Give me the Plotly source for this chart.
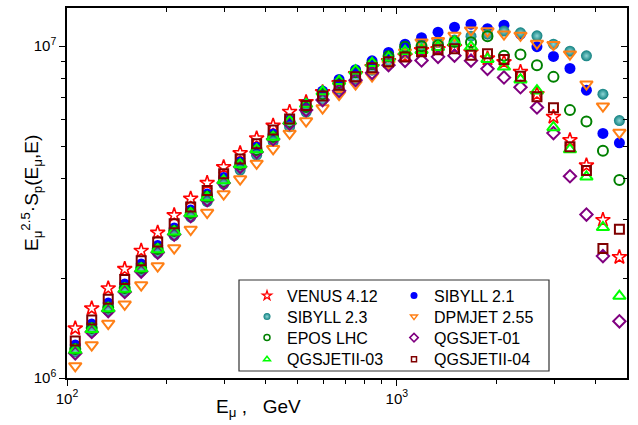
import plotly.graph_objects as go

# Muon energy (GeV), bin centres
energy = [105.93, 118.85, 133.35, 149.62, 167.88, 188.36, 211.35, 237.14, 266.07, 298.54,
          334.97, 375.84, 421.70, 473.15, 530.88, 595.66, 668.34, 749.89, 841.40, 944.06,
          1059.3, 1188.5, 1333.5, 1496.2, 1678.8, 1883.6, 2113.5, 2371.4, 2660.7, 2985.4,
          3349.7, 3758.4, 4217.0, 4731.5]

# E^2.5 * S_p values, in units of 1e6
venus = [1.411, 1.621, 1.863, 2.130, 2.417, 2.740, 3.093, 3.472, 3.868, 4.320, 4.761, 5.272, 5.762,
         6.340, 6.783, 7.269, 7.738, 8.235, 8.645, 9.013, 9.331, 9.727, 9.794, 9.931, 9.593, 9.183,
         8.951, 8.367, 7.169, 6.124, 5.210, 4.372, 2.992, 2.314]
sibyll21 = [1.257, 1.454, 1.682, 1.919, 2.204, 2.506, 2.830, 3.206, 3.583, 4.017, 4.473, 4.963, 5.432,
            5.986, 6.689, 7.320, 7.938, 8.497, 9.032, 9.573, 10.14, 10.61, 11.02, 11.41, 11.65, 11.29,
            11.57, 10.87, 9.966, 9.311, 8.567, 7.370, 5.458, 5.113]
sibyll23 = [1.198, 1.380, 1.597, 1.822, 2.100, 2.379, 2.687, 3.054, 3.401, 3.840, 4.232, 4.695, 5.158,
            5.714, 6.327, 6.877, 7.421, 7.954, 8.467, 8.951, 9.526, 10.00, 10.28, 10.43, 10.72, 10.87,
            11.10, 10.97, 10.74, 10.14, 9.660, 9.350, 7.169, 5.965]
dpmjet = [1.087, 1.257, 1.459, 1.667, 1.906, 2.174, 2.463, 2.802, 3.151, 3.583, 3.976, 4.433, 4.905,
          5.458, 5.945, 6.506, 7.144, 7.683, 8.121, 8.827, 9.593, 10.28, 10.38, 10.76, 11.17, 11.10,
          10.87, 10.77, 10.19, 10.10, 9.460, 7.683, 6.596, 5.489]
epos = [1.223, 1.414, 1.631, 1.866, 2.145, 2.446, 2.772, 3.140, 3.516, 3.902, 4.402, 4.861, 5.320,
        5.903, 6.551, 7.169, 7.738, 8.350, 8.827, 9.331, 9.952, 10.00, 10.07, 10.30, 10.28, 10.72,
        9.363, 9.441, 8.766, 8.081, 6.416, 5.932, 4.837, 3.949]
qgsjet01 = [1.187, 1.376, 1.591, 1.816, 2.093, 2.388, 2.705, 3.076, 3.437, 3.868, 4.329, 4.794, 5.247,
            5.850, 6.416, 6.877, 7.334, 7.900, 8.310, 8.766, 9.032, 9.057, 9.286, 9.363, 9.044, 8.543,
            8.048, 7.522, 6.537, 5.470, 4.054, 3.108, 2.330, 1.482]
qgsjetii03 = [1.214, 1.402, 1.621, 1.854, 2.137, 2.441, 2.759, 3.134, 3.501, 3.934, 4.396, 4.878, 5.320,
              5.945, 6.689, 7.295, 7.845, 8.438, 8.888, 9.234, 9.660, 9.727, 9.931, 10.28, 9.952, 9.138,
              8.664, 7.927, 7.345, 5.690, 4.878, 4.040, 2.844, 1.766]
qgsjetii04 = [1.292, 1.495, 1.726, 1.980, 2.256, 2.568, 2.916, 3.274, 3.676, 4.124, 4.574, 5.078, 5.585,
              6.036, 6.620, 7.071, 7.629, 8.081, 8.603, 8.970, 9.279, 9.612, 9.761, 9.829, 9.395, 9.493,
              9.120, 8.121, 7.037, 6.520, 4.974, 4.217, 2.455, 2.805]

SCALE = 1e6

x_tickvals = [100, 1000]
x_ticktext = ["10<sup>2</sup>", "10<sup>3</sup>"]
x_minor = [200, 300, 400, 500, 600, 700, 800, 900, 2000, 3000, 4000]
y_tickvals = [1e6, 1e7]
y_ticktext = ["10<sup>6</sup>", "10<sup>7</sup>"]
y_minor = [2e6, 3e6, 4e6, 5e6, 6e6, 7e6, 8e6, 9e6]

FONT = "Liberation Sans, Arial, sans-serif"

# name, data, symbol, color, plot size, plot line, legend size, legend line, legend id, (col,row)
series = [
    ("VENUS 4.12", venus, "star-open", "#ff0000", 11, 1.6, 7, 1.3, "legend", (0, 0)),
    ("SIBYLL 2.1", sibyll21, "circle", "#0000ff", 11, 0, 7, 0, "legend2", (1, 0)),
    ("SIBYLL 2.3", sibyll23, "circle", "#0e7f7f", 11, 0, 7, 0, "legend3", (0, 1)),
    ("DPMJET 2.55", dpmjet, "triangle-down-open", "#ff7f15", 11, 2, 6, 1.5, "legend4", (1, 1)),
    ("EPOS LHC", epos, "circle-open", "#008000", 10, 2, 6, 1.5, "legend5", (0, 2)),
    ("QGSJET-01", qgsjet01, "diamond-open", "#800080", 9.5, 2, 6.5, 1.5, "legend6", (1, 2)),
    ("QGSJETII-03", qgsjetii03, "triangle-up-open", "#00ff00", 11, 2, 6, 1.5, "legend7", (0, 3)),
    ("QGSJETII-04", qgsjetii04, "square-open", "#800000", 9, 2, 5, 1.5, "legend8", (1, 3)),
]

fig = go.Figure()

for name, vals, sym, col, size, lw, lsize, llw, leg, pos in series:
    marker = dict(symbol=sym, color=col, size=size, line=dict(width=lw, color=col))
    lmarker = dict(symbol=sym, color=col, size=lsize, line=dict(width=llw, color=col))
    if name == "SIBYLL 2.3":
        marker["gradient"] = dict(type="radial", color="#8fd6d6")
        lmarker["gradient"] = dict(type="radial", color="#8fd6d6")
    fig.add_trace(go.Scatter(x=energy, y=[v * SCALE for v in vals], mode="markers",
                             name=name, marker=marker, showlegend=False, hoverinfo="skip"))
    fig.add_trace(go.Scatter(x=[None], y=[None], mode="markers", name=name,
                             marker=lmarker, showlegend=True, legend=leg))

# dummy trace for the mirrored (top/right) axes
fig.add_trace(go.Scatter(x=[None], y=[None], xaxis="x2", yaxis="y2", showlegend=False))

L, R, T, B = 67, 11, 8, 47
W, H = 638, 425
pw, ph = W - L - R, H - T - B

legend_cols_px = [247, 394]
legend_rows_px = [295.7, 316.7, 337.7, 359.3]

layout = dict(
    width=W, height=H, autosize=False,
    margin=dict(l=L, r=R, t=T, b=B, pad=0),
    paper_bgcolor="white", plot_bgcolor="white",
    font=dict(family=FONT, size=15, color="black"),
    xaxis=dict(type="log", range=[2, 3.698], showgrid=False, zeroline=False,
               showline=True, linecolor="black", linewidth=1.5,
               tickmode="array", tickvals=x_tickvals, ticktext=x_ticktext,
               ticks="outside", ticklen=6, tickwidth=1.2, tickcolor="black",
               tickfont=dict(size=15),
               minor=dict(tickmode="array", tickvals=x_minor, ticks="outside", ticklen=4,
                          tickwidth=1.2, tickcolor="black", showgrid=False)),
    yaxis=dict(type="log", range=[6, 7.115], showgrid=False, zeroline=False,
               showline=True, linecolor="black", linewidth=1.5,
               tickmode="array", tickvals=y_tickvals, ticktext=y_ticktext,
               ticks="outside", ticklen=6, tickwidth=1.2, tickcolor="black",
               tickfont=dict(size=15),
               minor=dict(tickmode="array", tickvals=y_minor, ticks="outside", ticklen=4,
                          tickwidth=1.2, tickcolor="black", showgrid=False)),
    xaxis2=dict(type="log", range=[2, 3.698], overlaying="x", side="top", anchor="y",
                showgrid=False, zeroline=False, showline=True, linecolor="black", linewidth=1.5,
                tickmode="array", tickvals=x_tickvals, showticklabels=False,
                ticks="inside", ticklen=6, tickwidth=1.2, tickcolor="black",
                minor=dict(tickmode="array", tickvals=x_minor, ticks="inside", ticklen=4,
                           tickwidth=1.2, tickcolor="black", showgrid=False)),
    yaxis2=dict(type="log", range=[6, 7.115], overlaying="y", side="right", anchor="x",
                showgrid=False, zeroline=False, showline=True, linecolor="black", linewidth=1.5,
                tickmode="array", tickvals=y_tickvals, showticklabels=False,
                ticks="inside", ticklen=6, tickwidth=1.2, tickcolor="black",
                minor=dict(tickmode="array", tickvals=y_minor, ticks="inside", ticklen=4,
                           tickwidth=1.2, tickcolor="black", showgrid=False)),
    shapes=[dict(type="rect", xref="paper", yref="paper",
                 x0=(239 - L) / pw, x1=(549 - L) / pw,
                 y0=(H - B - 371) / ph, y1=(H - B - 280) / ph,
                 line=dict(color="#333333", width=1.2), fillcolor="rgba(0,0,0,0)", layer="above")],
    annotations=[
        dict(text="E<sub>μ</sub><sup>2.5</sup>·S<sub>p</sub>(E<sub>μ</sub>,E)", textangle=-90,
             xref="paper", yref="paper", x=(31 - L) / pw, y=0.5, xanchor="center", yanchor="middle",
             showarrow=False, font=dict(size=19, family=FONT)),
        dict(text="E<sub>μ</sub>\u00a0,\u00a0\u00a0\u00a0GeV",
             xref="paper", yref="paper", x=(258 - L) / pw, y=(H - B - 408) / ph,
             xanchor="center", yanchor="middle",
             showarrow=False, font=dict(size=19, family=FONT)),
    ],
)

for name, vals, sym, col, size, lw, lsize, llw, leg, (c, r) in series:
    layout[leg] = dict(x=(legend_cols_px[c] - L) / pw, y=(H - B - legend_rows_px[r]) / ph,
                       xanchor="left", yanchor="middle", bgcolor="rgba(0,0,0,0)", borderwidth=0,
                       font=dict(size=16, family=FONT, color="black"), itemsizing="trace")

fig.update_layout(**layout)
fig.write_html("out.html")
